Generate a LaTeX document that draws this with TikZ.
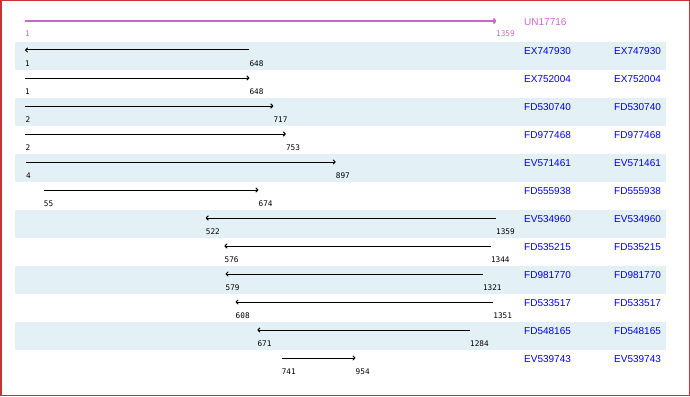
\documentclass[tikz,border=0pt]{standalone}
\usepackage{fontspec}
\setmainfont{Liberation Sans}
\newfontfamily\numfont{DejaVu Sans Mono}
\usepackage{tikz}
\usetikzlibrary{arrows.meta}
\definecolor{myframe}{RGB}{200,50,50}
\definecolor{mystripe}{RGB}{227,240,245}
\definecolor{myquery}{RGB}{204,102,204}
\definecolor{myname}{RGB}{0,0,238}
\tikzset{
  stripe/.style={fill=mystripe, draw=none},
  hitarrow/.style={-{To[length=3pt,width=5pt]}, line width=1pt, color=black},
  queryarrow/.style={-{To[length=3pt,width=6pt]}, line width=2pt, color=myquery},
  poslabel/.style={anchor=west, inner sep=0pt, font=\numfont\fontsize{7.7}{8}\selectfont},
  namelabel/.style={anchor=west, inner sep=0pt, font=\fontsize{10}{12}\selectfont, color=myname}
}

\begin{document}
\begin{tikzpicture}[x=1pt,y=-1pt]
  \useasboundingbox (0,0) rectangle (690,396);
  % Frame
  \draw[myframe, line width=1.5pt] (0.75,0.75) rectangle (689.25,395.25);
  % Stripes
  \foreach \k in {1,3,...,11}
    \fill[stripe] (15,{42+(\k-1)*28}) rectangle (666,{70+(\k-1)*28});
  % Query
  \coordinate (qs) at (25,21);
  \coordinate (qe) at (496,21);
  \draw[queryarrow] (qs) -- (qe);
  \node[poslabel, text=myquery] (qsl) at (25,34) {1};
  \node[poslabel, text=myquery] (qel) at (496,34) {1359};
  \node[namelabel, text=myquery] (qname) at (524,22) {UN17716};
  % Hits: row/tail/head/accession
  \foreach \k/\t/\h/\acc in {1/648/1/EX747930, 2/1/648/EX752004,
      3/2/717/FD530740, 4/2/753/FD977468, 5/4/897/EV571461,
      6/55/674/FD555938, 7/1359/522/EV534960, 8/1344/576/FD535215,
      9/1321/579/FD981770, 10/1351/608/FD533517, 11/1284/671/FD548165,
      12/741/954/EV539743} {
    \pgfmathsetmacro\y{50+(\k-1)*28}
    \pgfmathsetmacro\xt{25+(\t-1)*0.346834}
    \pgfmathsetmacro\xh{25+(\h-1)*0.346834}
    \coordinate (t\k) at (\xt,\y);
    \coordinate (h\k) at (\xh,\y);
    \draw[hitarrow] (t\k) -- (h\k);
    \node[poslabel] (tl\k) at (\xt,\y+14) {\t};
    \node[poslabel] (hl\k) at (\xh,\y+14) {\h};
    \node[namelabel] (na\k) at (524,\y+1.5) {\acc};
    \node[namelabel] (nb\k) at (614,\y+1.5) {\acc};
  }
\end{tikzpicture}
\end{document}
